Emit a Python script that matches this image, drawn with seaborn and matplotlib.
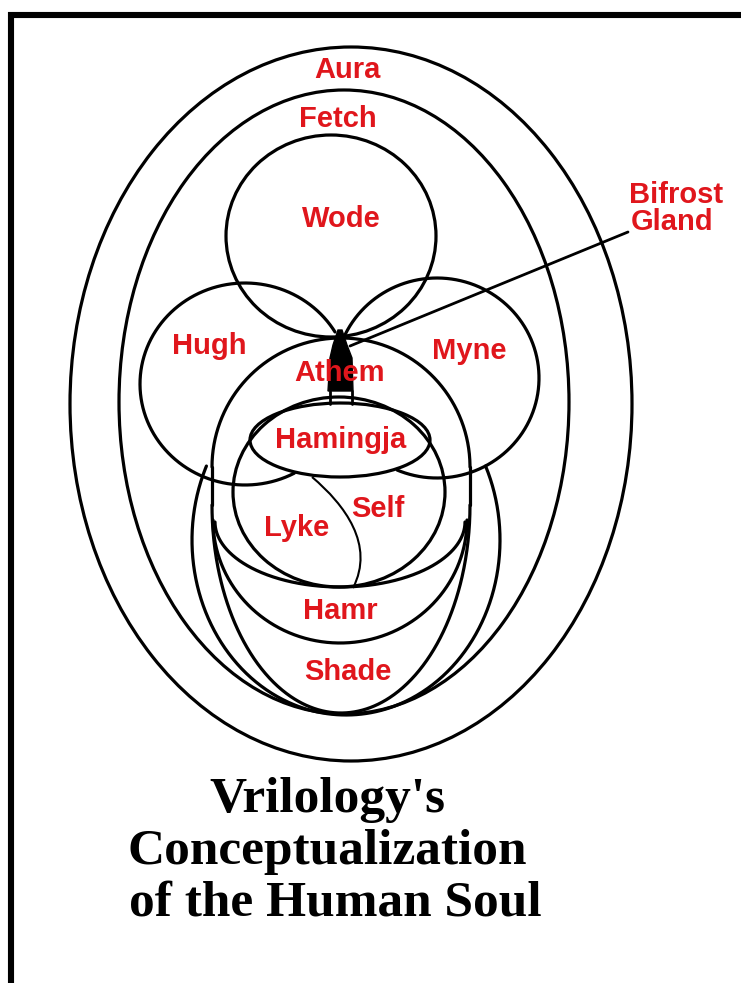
import numpy as np
import matplotlib
matplotlib.use("Agg")
import matplotlib.pyplot as plt
import seaborn as sns
from matplotlib.path import Path
from matplotlib.patches import PathPatch, Polygon, Ellipse

# ---- outline shapes (image pixel coords, y grows downward) ----
shape_names = ["Aura", "Fetch", "Wode", "Hugh", "Myne", "Athem top", "Athem bottom",
               "Shade", "Hamr", "Crescent", "Self", "Hamingja"]
shape_cx = [351, 344, 331, 245, 437, 341, 341, 346, 340, 340, 339, 340]
shape_cy = [404, 402, 236, 384, 378, 467, 505, 540, 520, 522, 492, 440]
shape_a = [281, 225, 105, 105, 102, 129, 129, 154, 127, 125, 106, 90]
shape_b = [357, 312, 101, 101, 100, 129, 208, 175, 123, 65, 95, 37]
shape_t0 = [0, 0, 0, 62, 206, 180, 0, -25, 0, 0, 0, 0]
shape_t1 = [360, 360, 360, 329, 473, 360, 180, 205, 180, 180, 360, 360]

# straight side pieces joining the Athem top arc to its lower arc
athem_side_x = [212, 470]
athem_side_y0 = [467, 467]
athem_side_y1 = [505, 505]

# ---- labels ----
label_text = ["Aura", "Fetch", "Wode", "Hugh", "Myne", "Athem", "Hamingja",
              "Self", "Lyke", "Hamr", "Shade"]
label_x = [347, 338, 341, 209, 469, 340, 341, 378, 297, 340, 348]
label_y = [70, 119, 219, 346, 351, 373, 440, 509, 528, 611, 672]

pointer_text = ["Bifrost", "Gland"]
pointer_x = [629, 631]
pointer_y = [195, 222]
bifrost_line_x = [350, 628]
bifrost_line_y = [346, 232]

# black gland wedge and its stems
wedge_x = [338, 342, 347, 352, 353, 328, 330, 333]
wedge_y = [330, 330, 345, 358, 391, 391, 358, 345]
stem_x = [330, 352]
stem_y0 = [391, 391]
stem_y1 = [404, 404]

# Lyke / Self divider curve (bezier control points)
divider_x = [312, 345, 375, 353]
divider_y = [477, 505, 545, 588]

title_lines = ["Vrilology's", "Conceptualization", "of the Human Soul"]
title_x = [327, 127, 129]
title_ha = ["center", "left", "left"]
title_y = [800, 852, 904]

RED = "#e0161c"

sns.set_theme(style="white")
plt.rcParams["font.family"] = ["Liberation Sans", "DejaVu Sans"]

fig = plt.figure(figsize=(7.41, 9.83), dpi=100)
ax = fig.add_axes([0, 0, 1, 1])
fig.patch.set_facecolor("white")
ax.set_facecolor("white")

line_kw = dict(sort=False, estimator=None, color="black", ax=ax,
               solid_capstyle="round", solid_joinstyle="round")

# outlines: closed shapes as ellipse patches, partial ones as arcs
for cx, cy, a, b, t0, t1 in zip(shape_cx, shape_cy, shape_a, shape_b, shape_t0, shape_t1):
    if t1 - t0 >= 360:
        ax.add_patch(Ellipse((cx, cy), 2 * a, 2 * b, facecolor="none",
                             edgecolor="black", lw=2.3))
    else:
        t = np.radians(np.linspace(t0, t1, 500))
        xs = cx + a * np.cos(t)
        ys = cy + b * np.sin(t)
        sns.lineplot(x=xs, y=ys, linewidth=2.3, **line_kw)

for sx, y0, y1 in zip(athem_side_x, athem_side_y0, athem_side_y1):
    sns.lineplot(x=[sx, sx], y=[y0, y1], linewidth=2.3, **line_kw)

# wedge
ax.add_patch(Polygon(np.column_stack([wedge_x, wedge_y]), closed=True,
                     facecolor="black", edgecolor="black", lw=1, zorder=3))
for sx, y0, y1 in zip(stem_x, stem_y0, stem_y1):
    sns.lineplot(x=[sx, sx], y=[y0, y1], linewidth=2.0, **line_kw)

# Bifrost pointer line
sns.lineplot(x=bifrost_line_x, y=bifrost_line_y, linewidth=2.0, **line_kw)

# divider curve
path = Path(np.column_stack([divider_x, divider_y]),
            [Path.MOVETO, Path.CURVE4, Path.CURVE4, Path.CURVE4])
ax.add_patch(PathPatch(path, facecolor="none", edgecolor="black", lw=1.5))

# frame (top and left edges)
sns.lineplot(x=[8, 741], y=[14.5, 14.5], sort=False, estimator=None,
             color="black", linewidth=4.4, ax=ax, solid_capstyle="butt")
sns.lineplot(x=[10.5, 10.5], y=[12, 983], sort=False, estimator=None,
             color="black", linewidth=4.4, ax=ax, solid_capstyle="butt")

# labels
for txt, x, y in zip(label_text, label_x, label_y):
    ax.text(x, y, txt, color=RED, fontsize=21, fontweight="bold",
            ha="center", va="center", zorder=5)
for txt, x, y in zip(pointer_text, pointer_x, pointer_y):
    ax.text(x, y, txt, color=RED, fontsize=21, fontweight="bold",
            ha="left", va="center", zorder=5)

for txt, x, y, ha in zip(title_lines, title_x, title_y, title_ha):
    ax.text(x, y, txt, color="black", fontsize=37, fontweight="bold",
            family=["Liberation Serif", "DejaVu Serif"], ha=ha, va="center")

ax.set_xlim(0, 741)
ax.set_ylim(983, 0)
ax.axis("off")
fig.savefig("out.png", dpi=100, facecolor="white")
